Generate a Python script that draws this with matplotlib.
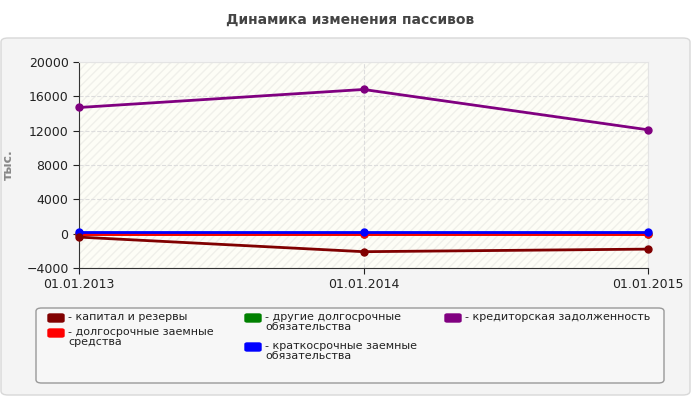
import matplotlib
matplotlib.use("Agg")
import matplotlib.pyplot as plt
from matplotlib.patches import FancyBboxPatch, Rectangle

dates = ["01.01.2013", "01.01.2014", "01.01.2015"]
kapital = [-400, -2100, -1800]
dolg_zaem = [0, 0, 0]
drugie_dolg = [0, 0, 0]
kratk_zaem = [150, 150, 150]
kredit = [14700, 16800, 12100]
yticks = [-4000, 0, 4000, 8000, 12000, 16000, 20000]

series = [
    ("- капитал и резервы", kapital, "#800000"),
    ("- долгосрочные заемные\nсредства", dolg_zaem, "#ff0000"),
    ("- другие долгосрочные\nобязательства", drugie_dolg, "#008000"),
    ("- краткосрочные заемные\nобязательства", kratk_zaem, "#0000ff"),
    ("- кредиторская задолженность", kredit, "#800080"),
]

W, H = 700, 400
fig = plt.figure(figsize=(7, 4), dpi=100)
fig.patch.set_facecolor("white")
fig.patches.append(FancyBboxPatch((1/W, 5/H), 689/W, 357/H, boxstyle="round,pad=0,rounding_size=0.01",
                                  transform=fig.transFigure, facecolor="#f4f4f4", edgecolor="#d8d8d8",
                                  lw=1, zorder=-10))
fig.text(350/W, 1-20/H, "Динамика изменения пассивов", ha="center", va="center",
         fontsize=10, fontweight="bold", color="#444444")

ax = fig.add_axes([79/W, 1-268/H, (648-79)/W, (268-62)/H])
ax.set_facecolor("#fdfdf6")
ax.add_patch(Rectangle((0, 0), 1, 1, transform=ax.transAxes, facecolor="none",
                       hatch="////", edgecolor="#f0f0ea", lw=0, zorder=0))
x = list(range(len(dates)))
order = [2, 1, 3, 0, 4]
for i in order:
    lab, v, c = series[i]
    ax.plot(x, v, color=c, lw=2, marker="o", ms=5, zorder=3, clip_on=False)
ax.set_xlim(0, 2)
ax.set_ylim(-4000, 20000)
ax.set_yticks(yticks)
ax.set_xticks(x)
ax.set_xticklabels(dates)
ax.grid(True, color="#dddddd", ls="--", lw=0.8)
for s in ["top", "right"]:
    ax.spines[s].set_color("#e4e4e4")
for s in ["left", "bottom"]:
    ax.spines[s].set_color("#333333")
ax.tick_params(labelsize=9, colors="#222222", length=4)
ax.set_ylabel("тыс.", fontsize=9, color="#888888", fontweight="bold", labelpad=8)

fig.patches.append(FancyBboxPatch((36/W, 1-383/H), 628/W, 75/H, boxstyle="round,pad=0,rounding_size=0.008",
                                  transform=fig.transFigure, facecolor="#f7f7f7", edgecolor="#999999", lw=1))
pos = [(48, 318), (48, 333), (245, 318), (245, 347), (445, 318)]
for (lab, v, c), (px, py) in zip(series, pos):
    fig.patches.append(FancyBboxPatch((px/W, 1-(py+4)/H), 16/W, 8/H, boxstyle="round,pad=0,rounding_size=0.003",
                                      transform=fig.transFigure, facecolor=c, edgecolor=c))
    fig.text((px+20)/W, 1-(py-6)/H, lab, ha="left", va="top", fontsize=8, color="#222222",
             linespacing=1.0)

fig.savefig("out.png", dpi=100)
